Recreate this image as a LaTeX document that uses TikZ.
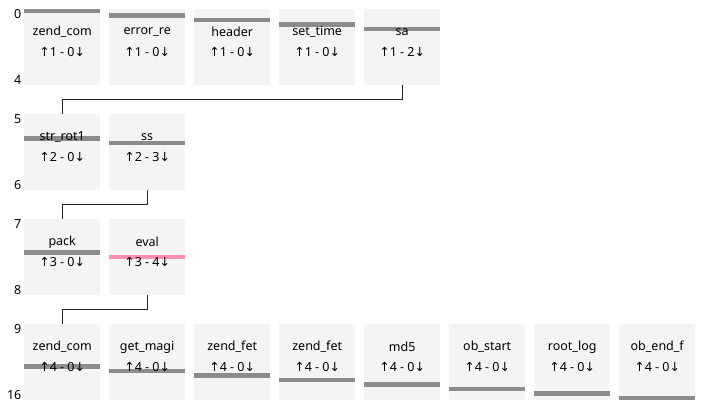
\documentclass[tikz,border=0pt]{standalone}
\usepackage{fontspec}
\setmainfont{Noto Sans}
\newfontfamily\arrowfont{DejaVu Sans}
\usetikzlibrary{positioning,calc}
\definecolor{boxgray}{HTML}{F4F4F4}
\definecolor{bargray}{HTML}{8C8C8C}
\definecolor{barpink}{HTML}{FF8DB4}
\newcommand{\upar}{{\arrowfont\char"2191}}
\newcommand{\dnar}{{\arrowfont\char"2193}}

\begin{document}
\begin{tikzpicture}[x=1pt,y=-1pt,
    callbox/.style={fill=boxgray, minimum width=76pt, minimum height=76pt, inner sep=0pt, anchor=north west},
    link/.style={draw=black!85, line width=1.3pt},
    idx/.style={anchor=east, inner sep=0pt, font=\fontsize{12.5}{14}\selectfont},
    txt/.style={inner sep=0pt, font=\fontsize{12.5}{14}\selectfont}]
  \useasboundingbox (0,0) rectangle (701,411);

  % boxes, one bar per call
  \foreach \n/\lab/\c/\r/\k/\i/\o/\col in {
      zendcom/zend\_com/0/0/0/1/0/bargray, errorre/error\_re/1/0/1/1/0/bargray,
      header/header/2/0/2/1/0/bargray, settime/set\_time/3/0/3/1/0/bargray,
      sa/sa/4/0/4/1/2/bargray,
      strrot/str\_rot1/0/1/5/2/0/bargray, ss/ss/1/1/6/2/3/bargray,
      pack/pack/0/2/7/3/0/bargray, eval/eval/1/2/8/3/4/barpink,
      zendcomb/zend\_com/0/3/9/4/0/bargray, getmagi/get\_magi/1/3/10/4/0/bargray,
      zendfeta/zend\_fet/2/3/11/4/0/bargray, zendfetb/zend\_fet/3/3/12/4/0/bargray,
      md5/md5/4/3/13/4/0/bargray, obstart/ob\_start/5/3/14/4/0/bargray,
      rootlog/root\_log/6/3/15/4/0/bargray, obendf/ob\_end\_f/7/3/16/4/0/bargray} {
    \node[callbox] (\n) at (24+85*\c, 9+105*\r) {};
    \fill[\col] ($(\n.north west)+(0,4.47*\k)$) rectangle ++(76,4.47);
    \node[txt] at ($(\n.north)+(0,23)$) {\lab};
    \node[txt] at ($(\n.north)+(0,43)$) {\upar\i\ - \o\dnar};
  }

  % index range of each row
  \foreach \r/\a/\b in {0/0/4, 1/5/6, 2/7/8, 3/9/16} {
    \node[idx] at (21.5, 14+105*\r) {\a};
    \node[idx] at (21.5, 80+105*\r) {\b};
  }

  \draw[link] (sa.south) -- ++(0,14) -| (strrot.north);
  \draw[link] (ss.south) -- ++(0,14) -| (pack.north);
  \draw[link] (eval.south) -- ++(0,14) -| (zendcomb.north);
\end{tikzpicture}
\end{document}
